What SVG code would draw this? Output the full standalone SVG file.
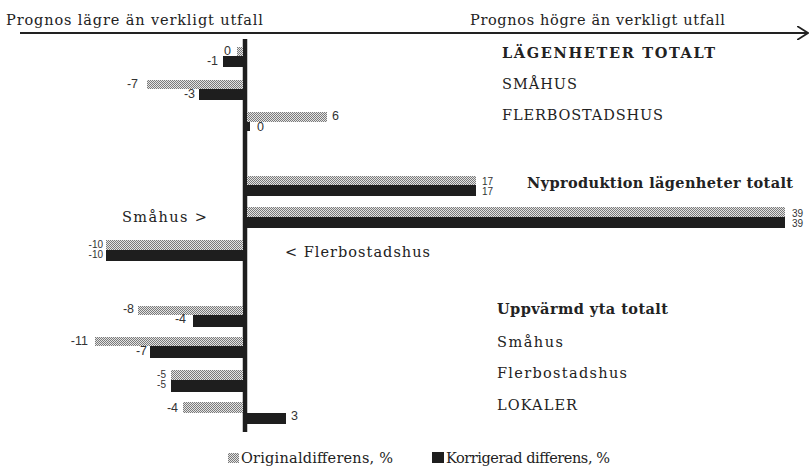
<svg xmlns="http://www.w3.org/2000/svg" width="810" height="475" viewBox="0 0 810 475">
<style>
.t{font-family:"DejaVu Serif","Liberation Serif",serif;font-size:14.5px;fill:#222}
.b{font-weight:bold}
.n{font-family:"Liberation Sans",Arial,sans-serif;font-size:12.5px;fill:#333}
.s{font-size:10px}
.e{text-anchor:end}
.o{fill:url(#dots)}
.k{fill:#1e1e1e}
</style>
<defs>
<pattern id="dots" width="2" height="2" patternUnits="userSpaceOnUse">
<rect width="2" height="2" fill="#e4e4e4"/>
<rect width="1" height="1" fill="#7a7a7a"/>
<rect x="1" y="1" width="1" height="1" fill="#7a7a7a"/>
</pattern>
<marker id="arr" viewBox="0 0 12 14" refX="11" refY="7" markerWidth="12" markerHeight="14" markerUnits="userSpaceOnUse" orient="auto">
<path d="M0,0 L11,7 L0,14" fill="none" stroke="#222" stroke-width="1.8"/>
</marker>
</defs>
<rect width="810" height="475" fill="#fff"/>

<g id="header">
<text class="t" x="6" y="25" textLength="257">Prognos lägre än verkligt utfall</text>
<text class="t" x="470" y="25" textLength="255">Prognos högre än verkligt utfall</text>
</g>

<g id="connectors">
<line x1="20" y1="33" x2="808" y2="33" stroke="#222" stroke-width="2" marker-end="url(#arr)"/>
<line x1="245" y1="39" x2="245" y2="432" stroke="#1e1e1e" stroke-width="4.5"/>
</g>

<g id="lagenheter-totalt">
<rect class="o" x="237" y="47" width="6" height="9"/>
<rect class="k" x="223" y="56" width="20" height="11"/>
<text class="n e" x="231" y="55">0</text>
<text class="n e" x="218" y="65">-1</text>
<text class="t b" x="502" y="58" font-size="17" textLength="213">LÄGENHETER TOTALT</text>
</g>

<g id="smahus-1">
<rect class="o" x="147" y="80" width="96" height="9"/>
<rect class="k" x="199" y="89" width="44" height="11"/>
<text class="n e" x="138" y="88">-7</text>
<text class="n e" x="195" y="98">-3</text>
<text class="t" x="502" y="89" font-size="15.5" textLength="75">SMÅHUS</text>
</g>

<g id="flerbostadshus-1">
<rect class="o" x="247" y="112" width="80" height="10"/>
<rect class="k" x="247" y="122" width="3" height="9"/>
<text class="n" x="332" y="120">6</text>
<text class="n" x="257" y="131">0</text>
<text class="t" x="502" y="120" font-size="15.5" textLength="161">FLERBOSTADSHUS</text>
</g>

<g id="nyproduktion-totalt">
<rect class="o" x="247" y="176" width="229" height="9"/>
<rect class="k" x="247" y="185" width="229" height="11"/>
<text class="n s" x="482" y="185">17</text>
<text class="n s" x="482" y="195">17</text>
<text class="t b" x="527" y="188" font-size="15" textLength="266">Nyproduktion lägenheter totalt</text>
</g>

<g id="nyproduktion-smahus">
<rect class="o" x="247" y="207" width="538" height="10"/>
<rect class="k" x="247" y="217" width="538" height="11"/>
<text class="n s" x="792" y="217">39</text>
<text class="n s" x="792" y="227">39</text>
<text class="t" x="122" y="222" textLength="85">Småhus &gt;</text>
</g>

<g id="nyproduktion-flerbostadshus">
<rect class="o" x="106" y="240" width="137" height="10"/>
<rect class="k" x="106" y="250" width="137" height="11"/>
<text class="n s e" x="103" y="248">-10</text>
<text class="n s e" x="103" y="258">-10</text>
<text class="t" x="285" y="257" textLength="145">&lt; Flerbostadshus</text>
</g>

<g id="uppvarmd-yta-totalt">
<rect class="o" x="138" y="306" width="105" height="9"/>
<rect class="k" x="193" y="315" width="50" height="12"/>
<text class="n e" x="134" y="313">-8</text>
<text class="n e" x="186" y="323">-4</text>
<text class="t b" x="497" y="314" textLength="171">Uppvärmd yta totalt</text>
</g>

<g id="smahus-2">
<rect class="o" x="95" y="337" width="148" height="9"/>
<rect class="k" x="150" y="346" width="93" height="12"/>
<text class="n e" x="88" y="345">-11</text>
<text class="n e" x="147" y="355">-7</text>
<text class="t" x="497" y="347" textLength="66">Småhus</text>
</g>

<g id="flerbostadshus-2">
<rect class="o" x="171" y="370" width="72" height="10"/>
<rect class="k" x="171" y="380" width="72" height="12"/>
<text class="n s e" x="166" y="378">-5</text>
<text class="n s e" x="166" y="388">-5</text>
<text class="t" x="497" y="378" textLength="130">Flerbostadshus</text>
</g>

<g id="lokaler">
<rect class="o" x="183" y="402" width="60" height="11"/>
<rect class="k" x="247" y="413" width="39" height="11"/>
<text class="n e" x="178" y="412">-4</text>
<text class="n" x="291" y="420">3</text>
<text class="t" x="497" y="410" font-size="15.5" textLength="80">LOKALER</text>
</g>

<g id="legend">
<rect class="o" x="228" y="453" width="11" height="10"/>
<text class="t" x="241" y="463" font-size="13" textLength="152">Originaldifferens, %</text>
<rect class="k" x="432" y="452" width="12" height="11"/>
<text class="t" x="446" y="463" font-size="13" textLength="164">Korrigerad differens, %</text>
</g>
</svg>
